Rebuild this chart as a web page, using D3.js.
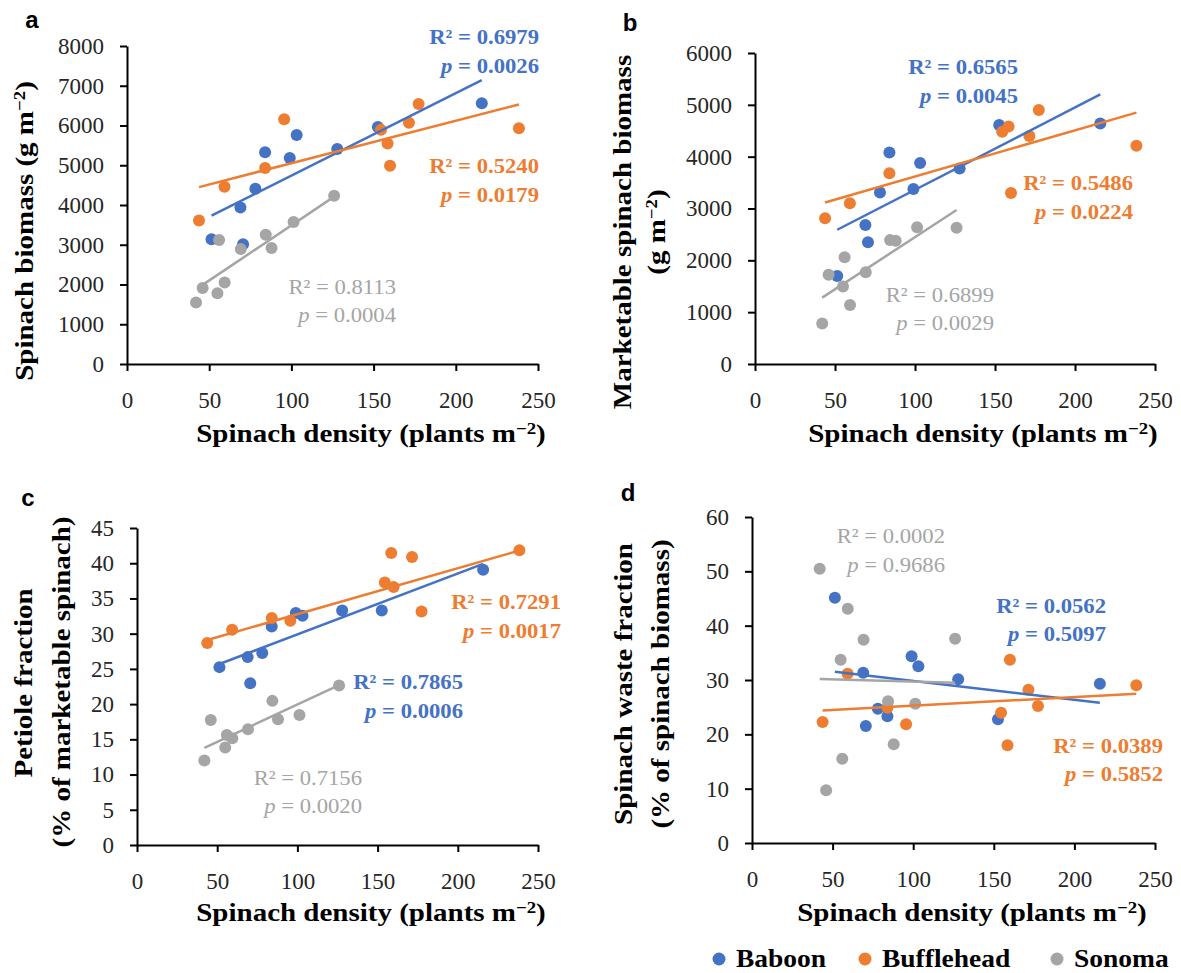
<!DOCTYPE html>
<html>
<head>
<meta charset="utf-8">
<script src="https://cdn.jsdelivr.net/npm/d3@7"></script>
<style>
  body { margin: 0; background: #fff; }
  text { font-family: 'Liberation Serif', 'Times New Roman', serif; }
</style>
</head>
<body>
<svg id="chart" width="1181" height="973"></svg>
<script>
// spinach density vs biomass / fractions, 4 panels

var cultivars = ["Baboon", "Bufflehead", "Sonoma"]
var colors = ["#4472C4", "#ED7D31", "#A5A5A5"]

// plants m-2 (same plots in every panel)
var densityBaboon = [51.4, 69, 70.6, 78.1, 84, 99, 103.2, 127.9, 152.6, 215.8]
var densityBufflehead = [43.8, 59.3, 84, 95.6, 154.5, 158.5, 160, 171.5, 177.4, 238.4]
var densitySonoma = [42, 46, 55, 56, 59.4, 69.2, 84.4, 87.9, 101.3, 126]

// a: spinach biomass (g m-2)
var biomassBaboon = [3140, 3940, 3010, 4410, 5330, 5180, 5760, 5410, 5960, 6560]
var biomassBufflehead = [3610, 4460, 4930, 6160, 5890, 5550, 4990, 6070, 6540, 5930]
var biomassSonoma = [1550, 1910, 1780, 3120, 2050, 2890, 3250, 2920, 3570, 4230]

// b: marketable spinach biomass (g m-2)
var marketBaboon = [1700, 2680, 2350, 3310, 4080, 3375, 3880, 3770, 4610, 4640]
var marketBufflehead = [2810, 3100, 3680, null, 4480, 4580, 3300, 4400, 4900, 4210]
var marketSonoma = [780, 1720, 1495, 2060, 1140, 1770, 2390, 2380, 2640, 2630]

// c: petiole fraction (% of marketable spinach)
var petioleBaboon = [25.25, 26.67, 22.97, 27.24, 31.03, 32.92, 32.54, 33.3, 33.3, 39.08]
var petioleBufflehead = [28.66, 30.55, 32.21, 31.83, 37.28, 41.45, 36.62, 40.88, 33.16, 41.83]
var petioleSonoma = [11.98, 17.76, 13.83, 15.63, 15.16, 16.44, 20.46, 17.86, 18.47, 22.64]

// d: spinach waste fraction (% of spinach biomass)
var wasteBaboon = [45.15, 31.35, 21.53, 24.72, 23.31, 34.36, 32.52, 30.12, 22.76, 29.33]
var wasteBufflehead = [22.27, 31.17, 24.9, 21.84, 23.99, 17.98, 33.74, 28.22, 25.21, 29.02]
var wasteSonoma = [50.49, 9.69, 33.74, 15.52, 43.13, 37.42, 26.07, 18.16, 25.64, 37.61]

// linear trend lines: [x0, y0, x1, y1]
var trendBiomass = [[51.4, 3730, 215.8, 7140], [43.8, 4450, 238.4, 6530], [46, 1990, 126, 4210]]
var trendMarket = [[51.4, 2590, 215.8, 5200], [43.8, 3115, 238.4, 4850], [42, 1280, 126, 2970]]
var trendPetiole = [[51.4, 25.7, 215.8, 39.9], [43.8, 29.1, 238.4, 41.8], [42, 13.8, 126, 22.7]]
var trendWaste = [[51.4, 31.5, 215.8, 25.8], [43.8, 24.4, 238.4, 27.45], [42, 30.2, 126, 29.5]]

// [R2, p]
var statsBiomass = [["0.6979", "0.0026"], ["0.5240", "0.0179"], ["0.8113", "0.0004"]]
var statsMarket = [["0.6565", "0.0045"], ["0.5486", "0.0224"], ["0.6899", "0.0029"]]
var statsPetiole = [["0.7865", "0.0006"], ["0.7291", "0.0017"], ["0.7156", "0.0020"]]
var statsWaste = [["0.0562", "0.5097"], ["0.0389", "0.5852"], ["0.0002", "0.9686"]]

var xTicks = [0, 50, 100, 150, 200, 250]

var titleStretch = 1.16   // the original face (Palatino-like) is wider than Times

var svg = d3.select("#chart")

var panels = [
  {letter: "a", lx: 32, ly: 20, left: 127, right: 538, top: 46, bottom: 364, ymax: 8000, step: 1000,
   ys: [biomassBaboon, biomassBufflehead, biomassSonoma], trend: trendBiomass, stats: statsBiomass,
   ann: [[539, 37, 66], [539, 166, 195], [396, 287, 315]],
   ytitle: [["Spinach biomass (g m", 24, 231]], xt: [371, 433]},
  {letter: "b", lx: 630, ly: 23, left: 755, right: 1155, top: 53, bottom: 364, ymax: 6000, step: 1000,
   ys: [marketBaboon, marketBufflehead, marketSonoma], trend: trendMarket, stats: statsMarket,
   ann: [[1018, 67, 96], [1133, 183, 212], [994, 295, 323]],
   ytitle: [["Marketable spinach biomass", 622, 232], ["(g m", 656, 232]], xt: [983, 433]},
  {letter: "c", lx: 28, ly: 498, left: 137, right: 538, top: 528, bottom: 845, ymax: 45, step: 5,
   ys: [petioleBaboon, petioleBufflehead, petioleSonoma], trend: trendPetiole, stats: statsPetiole,
   ann: [[463, 682, 711], [561, 602, 631], [362, 778, 806]],
   ytitle: [["Petiole fraction", 23, 683], ["(% of marketable spinach)", 61, 682]], xt: [371, 912]},
  {letter: "d", lx: 628, ly: 493, left: 752, right: 1155, top: 517, bottom: 843, ymax: 60, step: 10,
   ys: [wasteBaboon, wasteBufflehead, wasteSonoma], trend: trendWaste, stats: statsWaste,
   ann: [[1106, 606, 634], [1163, 746, 774], [945, 536, 565]],
   ytitle: [["Spinach waste fraction", 623, 684], ["(% of spinach biomass)", 660, 684]], xt: [972, 912]}
]

var densities = [densityBaboon, densityBufflehead, densitySonoma]

function addUnit(t, base) {
  // "... m" + superscript "−2" + ")"
  t.append("tspan").text(base)
  t.append("tspan").attr("dy", "-0.45em").attr("font-size", "0.65em").text("\u22122")
  t.append("tspan").attr("dy", "0.3em").text(")")
}

panels.forEach(function(p) {
  var x = d3.scaleLinear().domain([0, 250]).range([p.left, p.right])
  var y = d3.scaleLinear().domain([0, p.ymax]).range([p.bottom, p.top])
  var g = svg.append("g")

  var yAxis = d3.axisLeft(y)
    .tickValues(d3.range(0, p.ymax + p.step / 2, p.step))
    .tickSize(7).tickSizeOuter(0).tickPadding(16)
    .tickFormat(d3.format("d"))
  var xAxis = d3.axisBottom(x)
    .tickValues(xTicks)
    .tickSize(7).tickSizeOuter(0).tickPadding(21)

  var ya = g.append("g").attr("transform", "translate(" + p.left + ",0)").call(yAxis)
  var xa = g.append("g").attr("transform", "translate(0," + p.bottom + ")").call(xAxis)
  ;[ya, xa].forEach(function(a) {
    a.select(".domain").attr("stroke", "#000").attr("stroke-width", 2)
    a.selectAll(".tick line").attr("stroke", "#000").attr("stroke-width", 2)
    a.selectAll(".tick text").attr("fill", "#262626").attr("font-size", 23)
      .style("font-family", "'Liberation Serif', serif")
  })

  // points, series in Excel order
  p.ys.forEach(function(vals, s) {
    var pts = vals.map(function(v, i) { return [densities[s][i], v] })
      .filter(function(d) { return d[1] !== null })
    g.append("g").selectAll("circle")
      .data(pts)
      .enter().append("circle")
        .attr("cx", function(d) { return x(d[0]) })
        .attr("cy", function(d) { return y(d[1]) })
        .attr("r", 6)
        .attr("fill", colors[s])
  })

  // trend lines on top
  p.trend.forEach(function(t, s) {
    g.append("line")
      .attr("x1", x(t[0])).attr("y1", y(t[1]))
      .attr("x2", x(t[2])).attr("y2", y(t[3]))
      .attr("stroke", colors[s]).attr("stroke-width", 2.5)
  })

  // R2 / p labels
  p.stats.forEach(function(st, s) {
    var a = p.ann[s]
    var w = s == 2 ? "normal" : "bold"
    g.append("text")
      .attr("transform", "translate(" + a[0] + "," + a[1] + ")scale(1.08,1)")
      .attr("dy", "0.35em")
      .attr("text-anchor", "end").attr("fill", colors[s])
      .attr("font-size", 21).attr("font-weight", w)
      .text("R\u00b2 = " + st[0])
    var t2 = g.append("text")
      .attr("transform", "translate(" + a[0] + "," + a[2] + ")scale(1.08,1)")
      .attr("dy", "0.35em")
      .attr("text-anchor", "end").attr("fill", colors[s])
      .attr("font-size", 21).attr("font-weight", w)
    t2.append("tspan").attr("font-style", "italic").text("p")
    t2.append("tspan").text(" = " + st[1])
  })

  // panel letter
  g.append("text")
    .attr("x", p.lx).attr("y", p.ly).attr("dy", "0.35em")
    .attr("text-anchor", "middle")
    .style("font-family", "'Liberation Sans', Arial, sans-serif")
    .attr("font-weight", "bold").attr("font-size", 24)
    .text(p.letter)

  // axis titles
  var xt = g.append("text")
    .attr("transform", "translate(" + p.xt[0] + "," + p.xt[1] + ")scale(" + titleStretch + ",1)")
    .attr("dy", "0.35em")
    .attr("text-anchor", "middle").attr("font-weight", "bold").attr("font-size", 25)
  addUnit(xt, "Spinach density (plants m")

  p.ytitle.forEach(function(yt) {
    var t = g.append("text")
      .attr("transform", "translate(" + yt[1] + "," + yt[2] + ")rotate(-90)scale(" + titleStretch + ",1)")
      .attr("dy", "0.35em")
      .attr("text-anchor", "middle").attr("font-weight", "bold").attr("font-size", 25)
    if (yt[0].slice(-1) == "m") addUnit(t, yt[0])
    else t.text(yt[0])
  })
})

// legend
var legendX = [719, 865, 1057]
var legend = svg.append("g")
cultivars.forEach(function(c, i) {
  legend.append("circle").attr("cx", legendX[i]).attr("cy", 959).attr("r", 6.5).attr("fill", colors[i])
  legend.append("text")
    .attr("transform", "translate(" + (legendX[i] + 17) + ",959)scale(1.1,1)")
    .attr("dy", "0.33em")
    .attr("font-weight", "bold").attr("font-size", 25)
    .text(c)
})
</script>
</body>
</html>
